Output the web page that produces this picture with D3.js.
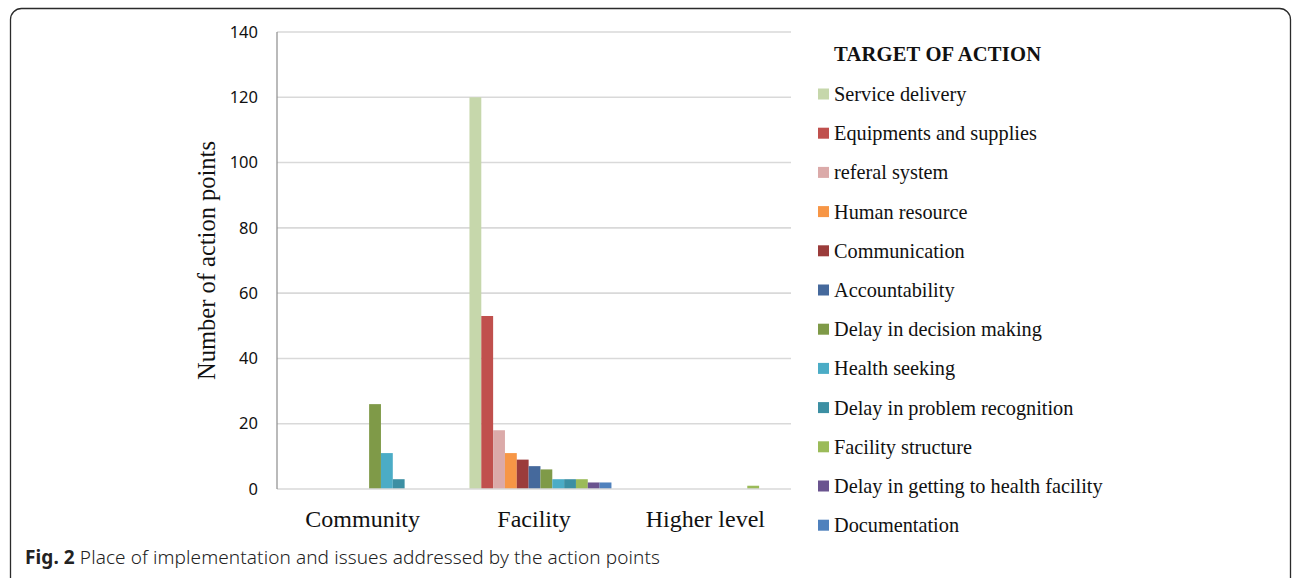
<!DOCTYPE html>
<html>
<head>
<meta charset="utf-8">
<script src="https://cdn.jsdelivr.net/npm/d3@7"></script>
<style>
  body { margin: 0; background: #fff; }
  svg { display: block; }
</style>
</head>
<body>
<script>
let places = ["Community", "Facility", "Higher level"];
let targets = ["Service delivery", "Equipments and supplies", "referal system", "Human resource",
  "Communication", "Accountability", "Delay in decision making", "Health seeking",
  "Delay in problem recognition", "Facility structure", "Delay in getting to health facility", "Documentation"];
let colors = ["#c6d7ab", "#c0504d", "#dbaaa9", "#f79646", "#9b3c3b", "#45699c", "#7f9a48",
  "#4bacc6", "#3c8fa3", "#9bbb59", "#6a548f", "#4f81bd"];
// counts per target, in order Community / Facility / Higher level
let community = [0, 0, 0, 0, 0, 0, 26, 11, 3, 0, 0, 0];
let facility = [120, 53, 18, 11, 9, 7, 6, 3, 3, 3, 2, 2];
let higher = [0, 0, 0, 0, 0, 0, 0, 0, 0, 1, 0, 0];
let yTicks = [0, 20, 40, 60, 80, 100, 120, 140];

let W = 1292, H = 578;
let margin = {left: 277, top: 32};
let w = 514, h = 457;

let svg = d3.select("body").append("svg").attr("width", W).attr("height", H);

// frame
svg.append("rect").attr("x", 10.5).attr("y", 8.5).attr("width", 1280).attr("height", 585)
  .attr("rx", 11).attr("fill", "none").attr("stroke", "#2b2b2b").attr("stroke-width", 1.3);

let chartGroup = svg.append("g").attr("transform", "translate(" + margin.left + "," + margin.top + ")");

let x0 = d3.scaleBand().domain(places).range([0, w]);
let x1 = d3.scaleBand().domain(targets).range([0, x0.bandwidth()]).paddingOuter(1.24).align(0.72);
let y = d3.scaleLinear().domain([0, 140]).range([h, 0]);

// grid
chartGroup.selectAll("line.grid").data(yTicks.slice(1)).enter().append("line")
  .attr("class", "grid")
  .attr("x1", 0).attr("x2", w)
  .attr("y1", d => y(d)).attr("y2", d => y(d))
  .attr("stroke", "#d9d9d9").attr("stroke-width", 1.6);

let rows = [community, facility, higher];
let groups = chartGroup.selectAll("g.place").data(places).enter().append("g")
  .attr("class", "place")
  .attr("transform", d => "translate(" + x0(d) + ",0)");

groups.selectAll("rect").data((p, i) => targets.map((t, j) => ({t: t, v: rows[i][j], c: colors[j]})))
  .enter().append("rect")
  .attr("x", d => x1(d.t))
  .attr("width", x1.bandwidth())
  .attr("y", d => y(d.v))
  .attr("height", d => h - y(d.v))
  .attr("fill", d => d.c);

// axes
let yAxis = d3.axisLeft(y).tickValues(yTicks).tickSize(0).tickPadding(19);
let yg = chartGroup.append("g").call(yAxis);
yg.select(".domain").remove();
yg.selectAll("text").attr("font-family", "'Noto Sans', sans-serif").attr("font-size", 16.5).attr("fill", "#111");

chartGroup.append("line").attr("x1", 0).attr("x2", w).attr("y1", h).attr("y2", h)
  .attr("stroke", "#d9d9d9").attr("stroke-width", 1.6);
chartGroup.append("line").attr("x1", 0).attr("x2", 0).attr("y1", 0).attr("y2", h)
  .attr("stroke", "#8c8c8c").attr("stroke-width", 1.2);

chartGroup.selectAll("text.cat").data(places).enter().append("text")
  .attr("class", "cat")
  .attr("x", d => x0(d) + x0.bandwidth() / 2)
  .attr("y", h + 38)
  .attr("text-anchor", "middle")
  .attr("font-family", "'Liberation Serif', serif").attr("font-size", 24).attr("fill", "#111")
  .text(d => d);

chartGroup.append("text")
  .attr("transform", "translate(-62," + (h / 2) + ") rotate(-90)")
  .attr("text-anchor", "middle")
  .attr("font-family", "'Liberation Serif', serif").attr("font-size", 24.5).attr("fill", "#111")
  .text("Number of action points");

// legend
let legend = svg.append("g").attr("transform", "translate(818,0)");
legend.append("text").attr("x", 16).attr("y", 61)
  .attr("font-family", "'Liberation Serif', serif").attr("font-size", 20.6).attr("font-weight", "bold")
  .attr("fill", "#111").attr("textLength", 207).text("TARGET OF ACTION");
let items = legend.selectAll("g.item").data(targets).enter().append("g")
  .attr("class", "item")
  .attr("transform", (d, i) => "translate(0," + (94 + i * 39.2) + ")");
items.append("rect").attr("x", 0).attr("y", -5.5).attr("width", 11).attr("height", 11)
  .attr("fill", (d, i) => colors[i]);
items.append("text").attr("x", 16).attr("y", 7)
  .attr("font-family", "'Liberation Serif', serif").attr("font-size", 20.3).attr("fill", "#111")
  .text(d => d);

// caption
let cap = svg.append("text").attr("x", 25).attr("y", 564)
  .attr("font-family", "'Noto Sans', sans-serif").attr("font-size", 19).attr("fill", "#222")
  .attr("textLength", 635);
cap.append("tspan").attr("font-weight", "bold").text("Fig. 2");
cap.append("tspan").attr("font-weight", 300).text(" Place of implementation and issues addressed by the action points");
</script>
</body>
</html>
